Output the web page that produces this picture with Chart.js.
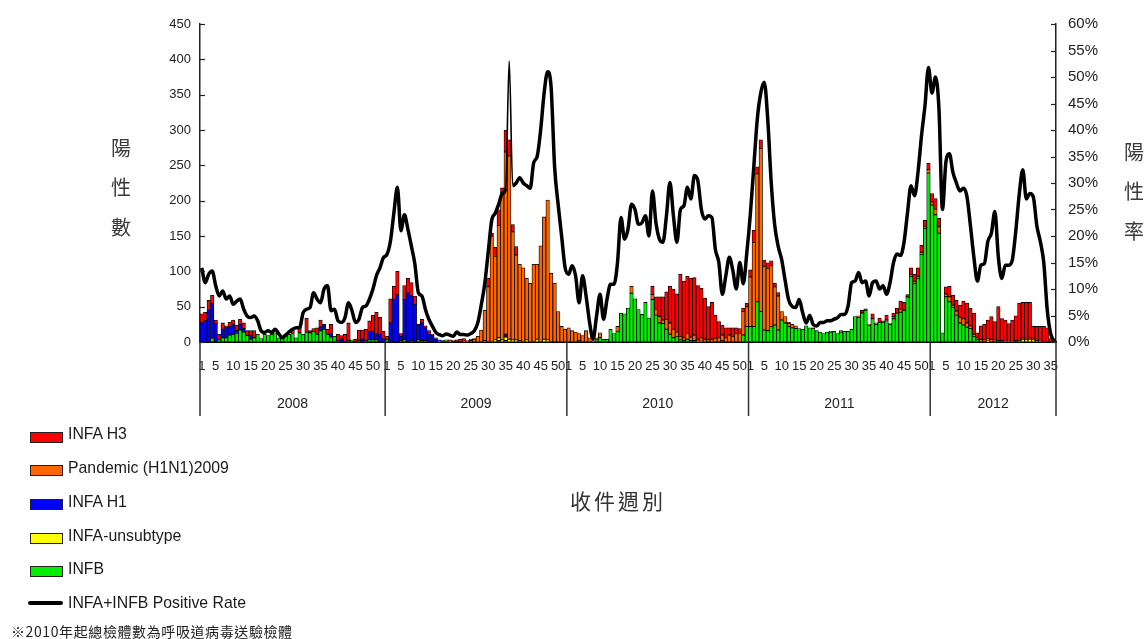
<!DOCTYPE html>
<html><head><meta charset="utf-8">
<script src="https://cdn.jsdelivr.net/npm/chart.js@4.4.0/dist/chart.umd.min.js"></script>
<style>
html,body{margin:0;padding:0;background:#fff;}
#wrap{position:relative;width:1146px;height:639px;overflow:hidden;background:#fff;}
#c{position:absolute;left:0;top:0;}
.cj{position:absolute;font-family:"Noto Sans CJK TC","Noto Sans CJK SC",sans-serif;color:#3a3a3a;font-size:20px;line-height:20px;width:20px;text-align:center;}
.sw{position:absolute;left:30px;width:31px;height:9px;border:1.5px solid #222;}
.lt{position:absolute;left:68px;font-family:"Liberation Sans",Arial,sans-serif;font-size:17px;line-height:20px;color:#1a1a1a;white-space:nowrap;transform:scaleX(0.93);transform-origin:0 50%;}
</style></head><body>
<div id="wrap">
<canvas id="c" width="1146" height="639"></canvas>
<div class="cj" style="left:111px;top:138px;">陽</div>
<div class="cj" style="left:111px;top:177px;">性</div>
<div class="cj" style="left:111px;top:217px;">數</div>
<div class="cj" style="left:1124px;top:142px;">陽</div>
<div class="cj" style="left:1124px;top:181px;">性</div>
<div class="cj" style="left:1124px;top:221px;">率</div>
<div style="position:absolute;left:518px;top:486px;width:200px;text-align:center;font-family:'Noto Sans CJK TC',sans-serif;font-size:21px;line-height:28px;letter-spacing:3px;color:#333;">收件週別</div>
<div class="sw" style="top:432px;background:#ff0000"></div><div class="lt" style="top:424px">INFA H3</div>
<div class="sw" style="top:465px;background:#ff6600"></div><div class="lt" style="top:458px">Pandemic (H1N1)2009</div>
<div class="sw" style="top:499px;background:#0000ff"></div><div class="lt" style="top:492px">INFA H1</div>
<div class="sw" style="top:533px;background:#ffff00"></div><div class="lt" style="top:526px">INFA-unsubtype</div>
<div class="sw" style="top:566px;background:#00ee00"></div><div class="lt" style="top:559px">INFB</div>
<div style="position:absolute;left:28px;top:601px;width:35px;height:4px;background:#000;border-radius:2px;"></div><div class="lt" style="top:593px">INFA+INFB Positive Rate</div>
<div style="position:absolute;left:11px;top:622px;font-family:'Noto Sans CJK TC',sans-serif;font-size:14px;line-height:18px;letter-spacing:0.6px;color:#222;white-space:nowrap;">※2010年起總檢體數為呼吸道病毒送驗檢體</div>
</div>
<script>
// ---- data (weekly) ----
const YEARS = ['2008','2009','2010','2011','2012'];
const WEEKS_IN_YEAR = [53,52,52,52,36];
const SHOWN_WEEKS = [1,5,10,15,20,25,30,35,40,45,50];

// INFB (green)
const infb2008 = [0,0,0,5,0,3,6,6,10,11, 12,17,14,9,4,6,11,5,11,9, 11,13,6,5,11,11,12,6,13,11, 14,13,15,11,16,18,11,7,8,2, 0,0,2,3,0,2,0,2,3,3, 3,0,0];
const infb2009 = [3,0,0,0,2,3,0,2,0,3, 2,2,0,0,0,1,0,3,1,0, 0,0,0,0,0,0,0,0,0,0, 0,0,2,0,2,0,0,0,0,0, 0,0,0,0,0,0,0,0,0,0, 0,0];
const infb2010 = [0,0,0,2,0,0,0,0,3,6, 4,4,18,12,15,41,40,48,69,61, 46,39,56,34,60,38,27,26,18,11, 6,8,3,2,4,2,2,1,1,0, 0,0,0,0,2,0,0,0,0,0, 10,22];
const infb2011 = [22,22,57,43,17,16,22,24,17,31, 27,22,20,19,19,18,23,20,19,16, 14,12,14,14,15,12,14,15,15,18, 36,35,41,45,24,33,25,28,28,30, 25,33,41,42,45,63,93,83,90,124, 161,239];
const infb2012 = [194,180,154,13,64,57,49,38,27,24, 21,19,8,3,0,0,0,0,0,0, 0,0,0,0,0,0,0,0,0,0, 0,0,0,0,0,0];

// INFA-unsubtype (yellow)
const unsub2008 = new Array(53).fill(0);
const unsub2009 = [0,0,0,0,0,0,0,0,0,0, 0,0,0,0,0,0,0,0,0,0, 0,0,0,0,0,0,0,0,2,0, 0,3,4,3,5,4,3,3,2,0, 3,0,0,4,0,4,3,0,0,0, 0,0];
const unsub2010 = new Array(52).fill(0);
const unsub2011 = new Array(52).fill(0);
const unsub2012 = [0,0,0,0,0,0,0,0,0,0, 0,0,0,0,0,0,1,0,0,0, 0,0,0,0,0,2,4,3,4,3, 2,0,0,0,0,0];

// INFA H1 (blue)
const h1_2008 = [27,30,46,49,26,0,12,14,12,14, 4,8,5,0,5,0,0,0,0,0, 0,0,0,0,0,0,0,0,0,0, 0,0,0,0,5,7,0,5,0,0, 4,0,0,0,0,0,4,0,12,12, 8,12,5];
const h1_2009 = [0,27,60,67,6,57,70,63,53,22, 25,18,12,9,5,2,0,0,0,0, 0,0,0,0,0,0,0,0,0,0, 0,0,0,0,4,0,0,0,0,0, 0,0,0,0,0,0,0,0,0,0, 0,0];
const h1_2010 = new Array(52).fill(0);
const h1_2011 = new Array(52).fill(0);
const h1_2012 = new Array(36).fill(0);

// Pandemic (H1N1)2009 (orange)
const pdm2008 = new Array(53).fill(0);
const pdm2009 = [0,0,0,0,0,0,0,0,0,0, 0,0,0,0,0,0,0,0,0,0, 0,0,1,1,2,4,8,17,43,78, 150,118,159,210,258,259,153,120,108,105, 87,83,110,106,136,173,198,97,83,43, 22,18];
const pdm2010 = [20,16,14,10,9,16,6,1,3,7, 0,0,0,0,7,0,0,0,10,0, 0,0,0,0,7,8,9,5,14,16, 12,6,5,4,8,5,8,3,5,4, 3,4,5,6,8,6,10,8,12,12, 33,28];
const pdm2011 = [70,119,181,231,90,88,86,54,48,12, 9,4,5,4,0,0,0,0,1,0, 0,0,0,1,0,0,2,0,0,0, 0,2,0,0,1,0,2,0,2,2, 1,3,0,4,0,1,2,3,3,3, 3,5];
const pdm2012 = [4,8,9,0,4,7,3,6,8,9, 6,4,3,3,4,3,4,4,3,2, 2,1,1,1,2,2,2,1,2,1, 0,1,0,0,0,0];

// INFA H3 (red)
const h3_2008 = [13,12,13,12,5,8,9,3,6,6, 8,7,8,7,7,10,0,0,0,0, 0,0,0,0,0,0,5,0,7,0, 20,3,4,9,10,0,7,13,0,9, 5,11,25,0,4,15,13,16,15,23, 31,23,10];
const h3_2009 = [5,34,19,33,4,20,20,19,12,0, 5,3,4,2,1,0,2,0,2,2, 3,4,4,1,2,1,0,0,0,12, 4,13,22,5,31,23,10,12,0,0, 0,0,0,0,0,0,0,0,0,0, 0,0];
const h3_2010 = [0,0,0,0,0,0,0,0,0,0, 0,0,0,0,0,0,0,0,0,0, 0,0,0,0,12,18,28,33,39,52, 57,54,88,80,81,83,81,76,70,58, 47,52,33,23,14,14,10,12,8,7, 5,5];
const h3_2011 = [10,17,10,12,9,8,7,5,5,0, 0,2,0,0,0,0,0,0,0,0, 0,0,0,0,0,0,0,0,0,0, 0,0,4,2,0,7,0,6,0,6, 0,5,7,12,11,3,10,10,12,10, 8,9];
const h3_2012 = [12,15,12,0,10,15,14,15,17,25, 28,25,30,7,19,22,26,32,26,48, 31,30,25,30,35,51,50,52,50,18, 20,21,22,20,5,2];

// INFA+INFB positive rate (%)
const rate2008 = [14,11.2,12.8,13.4,10.6,8.7,9.6,8.1,8.7,7.1, 7.7,8.1,6.2,4.9,4.6,4.9,4,2.1,1.8,2.1, 1.8,2.4,1.6,0.8,1.3,1.9,2.4,2.7,2.7,5.5, 6.2,6.5,9.3,8.1,7.4,10,10.6,5.9,6.2,4, 3.7,4.6,7.4,5.9,3.7,4.3,6.5,6.8,8.1,10, 12.5,14,15.9];
const rate2009 = [16.5,19,24.4,29.2,21,24,21.3,18.1,14.7,9.3, 8.7,6.2,4.3,3,1.8,1.4,1.2,1.5,1.3,1.1, 1.9,1.4,1.4,1.3,1.6,2.1,3.6,7,11,17, 23,24.3,26,28,29,53,29.5,30,31,30, 29.5,29,33.8,35,40,47,51,48,33,26, 20,14];
const rate2010 = [12.8,14.4,12.5,7.4,12.5,8.7,3.7,0.5,4.9,9, 4.3,8.1,10.9,10.9,15,23.5,19.4,21.3,26,25, 22.2,22.5,23.8,20,28.5,22.5,19.4,18.8,23.8,30.1, 23.8,18.8,25,25.7,29.2,27,31.4,30.4,25,23.2, 23.8,23.5,17.5,15,9,12.5,16,13.5,10,15, 11,16.8];
const rate2011 = [24,33,42,47,49,42,30,22,18,15.5, 11.5,7.9,6.7,6.5,8,5.5,3.6,5,3.3,3, 3.7,3.7,4,4,4.3,4.6,5.2,5.2,6.8,11.2, 11.5,13.1,11.2,11.5,8.7,11.2,11.5,10,10.6,9, 11.2,15,16.6,16.3,18.8,24.4,29.5,27.6,32,38.9, 44.6,51.8];
const rate2012 = [47,50,44,25,34,35.5,32,30,28.5,29, 27.5,22,16,11.5,14.5,14.8,19,20.5,24.6,16, 12,14.5,14.5,15.5,21,28,32.5,27,28,27.4, 22,19,15,6,1.5,0.2];

// ---- assemble ----
const weekLabels = [];
WEEKS_IN_YEAR.forEach(n => { for (let w = 1; w <= n; w++) weekLabels.push(String(w)); });
const infb = [].concat(infb2008, infb2009, infb2010, infb2011, infb2012);
const unsub = [].concat(unsub2008, unsub2009, unsub2010, unsub2011, unsub2012);
const h1 = [].concat(h1_2008, h1_2009, h1_2010, h1_2011, h1_2012);
const pdm = [].concat(pdm2008, pdm2009, pdm2010, pdm2011, pdm2012);
const h3 = [].concat(h3_2008, h3_2009, h3_2010, h3_2011, h3_2012);
const rate = [].concat(rate2008, rate2009, rate2010, rate2011, rate2012);

const FONT = "'Liberation Sans',Arial,sans-serif";
const SPIKE = rate.indexOf(Math.max(...rate.slice(53,105)));

const barBase = {type:'bar', borderColor:'#000', borderWidth:0.8, borderSkipped:false, barPercentage:1, categoryPercentage:1, yAxisID:'y', order:1};

const decor = {
  id:'decor',
  afterDraw(chart){
    const {ctx, chartArea:ca, scales:{x, y, y1}} = chart;
    ctx.save();
    ctx.strokeStyle = '#222'; ctx.lineWidth = 1.2;
    y.ticks.forEach(t => { const py = Math.round(y.getPixelForValue(t.value)) + 0.5; ctx.beginPath(); ctx.moveTo(ca.left, py); ctx.lineTo(ca.left + 5, py); ctx.stroke(); });
    y1.ticks.forEach(t => { const py = Math.round(y1.getPixelForValue(t.value)) + 0.5; ctx.beginPath(); ctx.moveTo(ca.right - 5, py); ctx.lineTo(ca.right, py); ctx.stroke(); });
    const step = x.getPixelForValue(1) - x.getPixelForValue(0);
    ctx.lineWidth = 1.5; ctx.strokeStyle = '#333';
    ctx.font = '14px ' + FONT; ctx.fillStyle = '#222'; ctx.textAlign = 'center'; ctx.textBaseline = 'middle';
    let start = 0;
    YEARS.forEach((yr, k) => {
      const n = WEEKS_IN_YEAR[k];
      const x0 = x.getPixelForValue(start) - step / 2;
      const x1 = x.getPixelForValue(start + n - 1) + step / 2;
      ctx.beginPath(); ctx.moveTo(x0, ca.bottom); ctx.lineTo(x0, 416); ctx.stroke();
      if (k === YEARS.length - 1) { ctx.beginPath(); ctx.moveTo(x1, ca.bottom); ctx.lineTo(x1, 416); ctx.stroke(); }
      ctx.fillText(yr, (x0 + x1) / 2, 404);
      start += n;
    });
    ctx.restore();
  }
};

new Chart(document.getElementById('c'), {
  data: {
    labels: weekLabels,
    datasets: [
      Object.assign({}, barBase, {label:'INFB', data:infb, backgroundColor:'#00ee00'}),
      Object.assign({}, barBase, {label:'INFA-unsubtype', data:unsub, backgroundColor:'#ffff00'}),
      Object.assign({}, barBase, {label:'INFA H1', data:h1, backgroundColor:'#0000ff'}),
      Object.assign({}, barBase, {label:'Pandemic (H1N1)2009', data:pdm, backgroundColor:'#ff6600'}),
      Object.assign({}, barBase, {label:'INFA H3', data:h3, backgroundColor:'#ff0000'}),
      {type:'line', label:'INFA+INFB Positive Rate', data:rate, yAxisID:'y1', order:0,
       borderColor:'#000', borderWidth:3.5, pointRadius:0, fill:false, cubicInterpolationMode:'monotone',
       segment:{borderWidth: c => (c.p0DataIndex === SPIKE || c.p1DataIndex === SPIKE) ? 1.6 : 3.5}}
    ]
  },
  options: {
    responsive:false, animation:false, devicePixelRatio:1,
    layout:{padding:{top:24, left:0, right:0, bottom:0}},
    plugins:{legend:{display:false}, tooltip:{enabled:false}},
    scales:{
      x:{stacked:true, offset:true, grid:{display:false, drawTicks:false},
         border:{display:true, color:'#000', width:2},
         ticks:{autoSkip:false, maxRotation:0, minRotation:0, padding:17, color:'#222', font:{family:FONT, size:13},
           callback:(v, i) => SHOWN_WEEKS.includes(+weekLabels[i]) || (i === weekLabels.length - 2) ? weekLabels[i] : ''},
         afterFit:s => { s.height = 297; }},
      y:{stacked:true, min:0, max:450, grid:{display:false, drawTicks:false},
         border:{display:true, color:'#222', width:1.5},
         ticks:{stepSize:50, padding:9, color:'#222', font:{family:FONT, size:13}},
         afterFit:s => { s.width = 200; }},
      y1:{position:'right', min:0, max:60, grid:{display:false, drawTicks:false},
         border:{display:true, color:'#222', width:1.5},
         ticks:{stepSize:5, padding:12, color:'#222', font:{family:FONT, size:15}, callback:v => v + '%'},
         afterFit:s => { s.width = 90; }}
    }
  },
  plugins:[decor]
});
</script>
</body></html>
